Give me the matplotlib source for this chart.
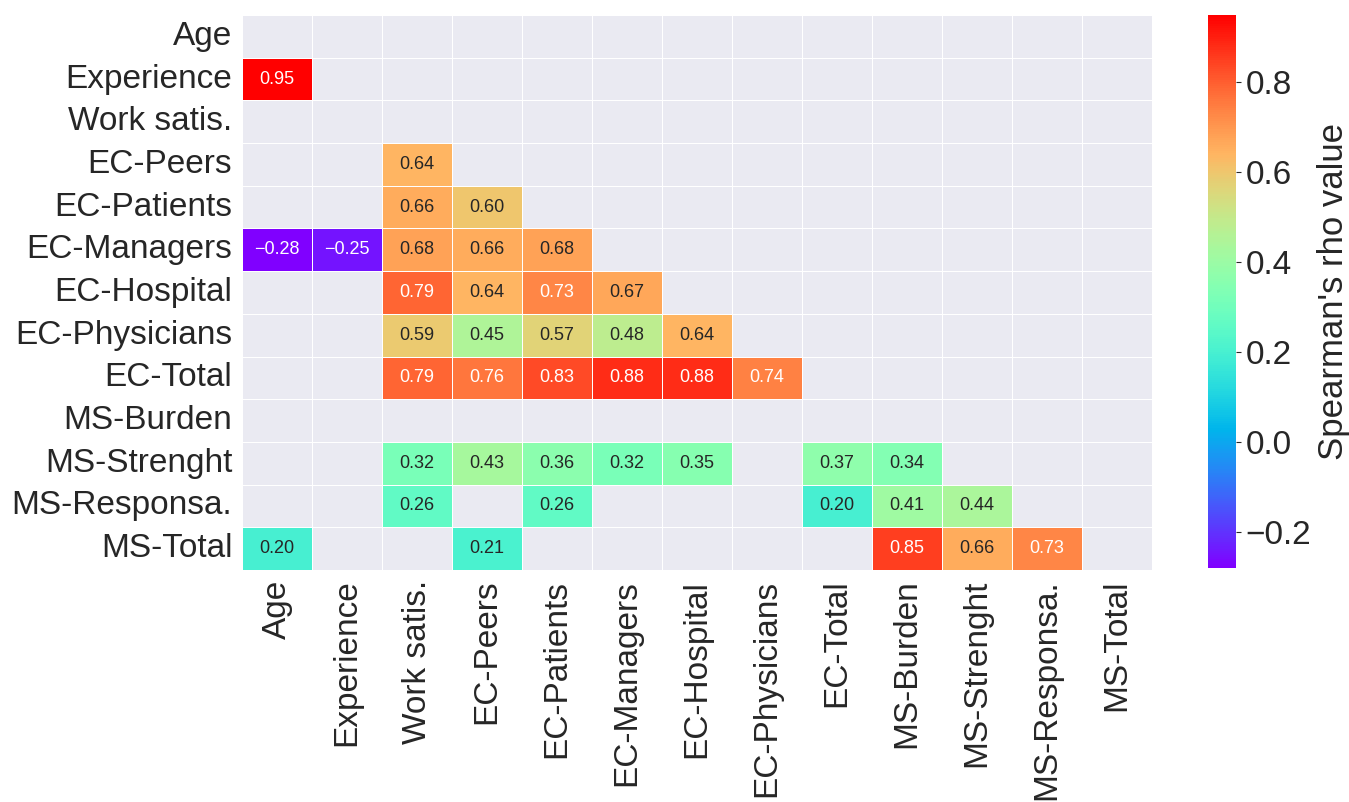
import numpy as np
import matplotlib
matplotlib.use("Agg")
import matplotlib.pyplot as plt
import seaborn as sns

labels = ["Age", "Experience", "Work satis.", "EC-Peers", "EC-Patients",
          "EC-Managers", "EC-Hospital", "EC-Physicians", "EC-Total",
          "MS-Burden", "MS-Strenght", "MS-Responsa.", "MS-Total"]

# Significant Spearman correlations, lower triangle (columns left of the diagonal);
# None marks a non-significant pair.
r_age = []
r_experience = [0.95]
r_work_satis = [None, None]
r_ec_peers = [None, None, 0.64]
r_ec_patients = [None, None, 0.66, 0.60]
r_ec_managers = [-0.28, -0.25, 0.68, 0.66, 0.68]
r_ec_hospital = [None, None, 0.79, 0.64, 0.73, 0.67]
r_ec_physicians = [None, None, 0.59, 0.45, 0.57, 0.48, 0.64]
r_ec_total = [None, None, 0.79, 0.76, 0.83, 0.88, 0.88, 0.74]
r_ms_burden = [None, None, None, None, None, None, None, None, None]
r_ms_strenght = [None, None, 0.32, 0.43, 0.36, 0.32, 0.35, None, 0.37, 0.34]
r_ms_responsa = [None, None, 0.26, None, 0.26, None, None, None, 0.20, 0.41, 0.44]
r_ms_total = [0.20, None, None, 0.21, None, None, None, None, None, 0.85, 0.66, 0.73]

rows = [r_age, r_experience, r_work_satis, r_ec_peers, r_ec_patients,
        r_ec_managers, r_ec_hospital, r_ec_physicians, r_ec_total,
        r_ms_burden, r_ms_strenght, r_ms_responsa, r_ms_total]

n = len(labels)
rho = np.full((n, n), np.nan)
for i, row in enumerate(rows):
    for j, v in enumerate(row):
        if v is not None:
            rho[i, j] = v
mask = np.triu(np.ones((n, n), dtype=bool))

# cell labels with a true minus sign
annot_text = np.empty((n, n), dtype=object)
for i in range(n):
    for j in range(n):
        v = rho[i, j]
        annot_text[i, j] = "" if np.isnan(v) else f"{v:.2f}".replace("-", "\u2212")

sns.set_style("darkgrid")
plt.rcParams["font.family"] = ["Liberation Sans", "DejaVu Sans"]

fig = plt.figure(figsize=(13.49, 8.02), dpi=100)
ax = fig.add_axes([0.1794, 0.2893, 0.6746, 0.6920])
cax = fig.add_axes([0.8955, 0.2918, 0.0208, 0.6895])

sns.heatmap(rho, mask=mask, cmap="rainbow", annot=annot_text, fmt="",
            annot_kws={"fontsize": 13}, linewidths=0.5, linecolor="white",
            xticklabels=labels, yticklabels=labels, ax=ax, cbar_ax=cax,
            cbar_kws={"label": "Spearman's rho value"})
ax.grid(False)
ax.tick_params(axis="both", labelsize=24, length=0, pad=7)
ax.set_xticklabels(labels, rotation=90)
ax.set_yticklabels(labels, rotation=0)

cax.tick_params(labelsize=24)
cax.yaxis.label.set_size(25)

fig.savefig("out.png", dpi=100)
